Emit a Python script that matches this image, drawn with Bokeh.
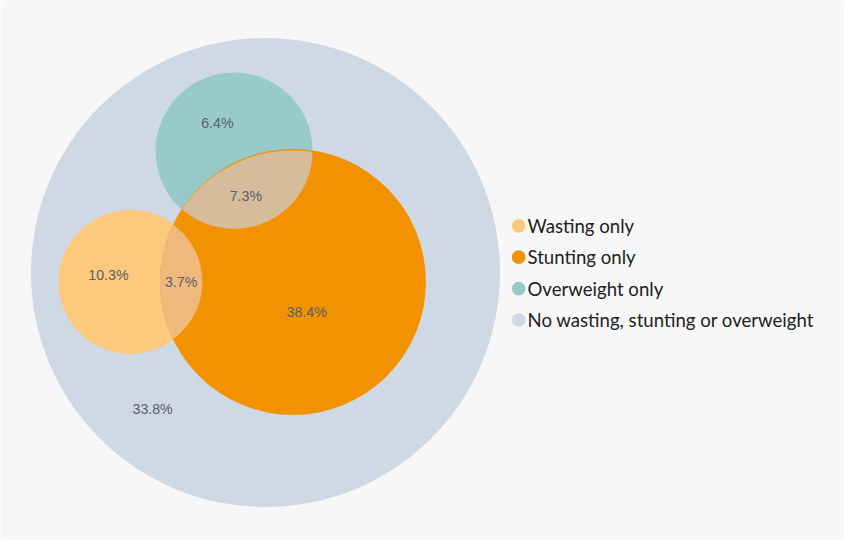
import numpy as np
from bokeh.plotting import figure
from bokeh.models import Range1d, ColumnDataSource
from bokeh.core.properties import value
from bokeh.embed import file_html
from bokeh.resources import INLINE

# shares of children (%), one per region of the diagram
regions = ["Overweight only", "Overweight and stunting", "Wasting only",
           "Wasting and stunting", "Stunting only", "None"]
shares = [6.4, 7.3, 10.3, 3.7, 38.4, 33.8]

legend_labels = ["Wasting only", "Stunting only", "Overweight only",
                 "No wasting, stunting or overweight"]
legend_colors = ["#fdc97c", "#f39200", "#97cac9", "#cfd9e5"]

# circle layout (centre x, centre y, radius) in chart units
circles = {
    "all": (270, 280, 239),
    "overweight": (238, 155, 80),
    "wasting": (132.3, 289.7, 73.3),
    "stunting": (298, 289.8, 135.5),
}
label_pos = [(221, 126), (250, 201), (110, 283), (184, 290), (312, 321), (155, 421)]


def lens(a, b, n=400):
    # polygon of the overlap of two circles
    t = np.linspace(0, 2 * np.pi, n, endpoint=False)
    pts = []
    for c, o in ((a, b), (b, a)):
        x = c[0] + c[2] * np.cos(t)
        y = c[1] + c[2] * np.sin(t)
        inside = (x - o[0]) ** 2 + (y - o[1]) ** 2 <= o[2] ** 2
        pts += list(zip(x[inside], y[inside]))
    pts = np.array(pts)
    cx, cy = pts.mean(axis=0)
    order = np.argsort(np.arctan2(pts[:, 1] - cy, pts[:, 0] - cx))
    return list(pts[order, 0]), list(pts[order, 1])


p = figure(width=844, height=540, output_backend="svg", toolbar_location=None,
           x_range=Range1d(0, 860), y_range=Range1d(556, 0), min_border=0)
p.axis.visible = False
p.grid.visible = False
p.outline_line_color = None
p.background_fill_color = "#f7f7f7"
p.border_fill_color = "#f7f7f7"

fills = {"all": "#cfd9e5", "overweight": "#97cac9", "wasting": "#fdc97c", "stunting": "#f39200"}
for k in ["all", "overweight", "wasting", "stunting"]:
    x, y, r = circles[k]
    p.circle(x=[x], y=[y], radius=r, fill_color=fills[k], line_color=None)

lx, ly = lens(circles["overweight"], circles["stunting"])
p.patch(lx, ly, fill_color="#d6bc9b", line_color=None)
lx, ly = lens(circles["wasting"], circles["stunting"])
p.patch(lx, ly, fill_color="#f0b97c", line_color=None)

src = ColumnDataSource(dict(
    x=[q[0] for q in label_pos], y=[q[1] for q in label_pos],
    t=["%.1f%%" % s for s in shares]))
p.text(x="x", y="y", text="t", source=src, text_align="center", text_baseline="middle",
       text_font=value("Liberation Sans"), text_font_size="14.2px", text_color="#56616e")

# legend
ys = [232 + 32.3 * i for i in range(len(legend_labels))]
p.scatter(x=[528] * len(ys), y=ys, size=13.7, fill_color=legend_colors, line_color=None)
p.text(x=[537] * len(ys), y=ys, text=legend_labels, text_baseline="middle",
       text_font=value("Lato"), text_font_size="18.6px", text_color="#222222")

open("out.html", "w").write(file_html(p, INLINE))
